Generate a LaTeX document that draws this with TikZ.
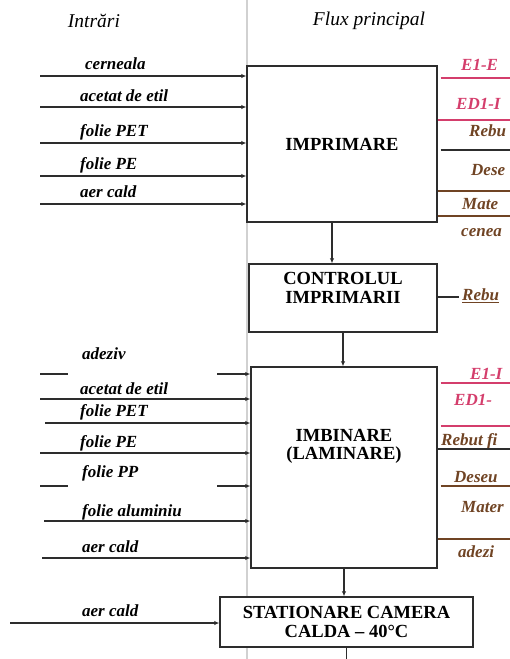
\documentclass[tikz,border=0pt]{standalone}
\usepackage{fontspec}
\setmainfont{Liberation Serif}
\usetikzlibrary{arrows.meta}
\definecolor{emisie}{RGB}{212,62,108}
\definecolor{deseu}{RGB}{112,68,36}
\definecolor{linie}{RGB}{45,45,45}

\begin{document}
\begin{tikzpicture}[x=1pt, y=-1pt,
  proc/.style={draw=linie, line width=1.4pt, fill=white, inner sep=0pt},
  ptxt/.style={align=center, font=\fontsize{18.5}{18.5}\selectfont\bfseries},
  lbl/.style={anchor=west, inner sep=0pt, font=\fontsize{17}{18}\selectfont\bfseries\itshape},
  hdr/.style={font=\fontsize{19.5}{21}\selectfont\itshape},
  inl/.style={line width=1.3pt, linie},
  arr/.style={inl, -{Latex[length=5pt,width=4.5pt]}},
  outE/.style={line width=1.3pt, emisie},
  outD/.style={line width=1.3pt, deseu}
]
\useasboundingbox (0,0) rectangle (510,659);
\draw[black!18, line width=2pt] (247,0) -- (247,659);

\node[hdr] (intrari) at (94,21)  {Intrări};
\node[hdr] (flux)    at (369,21) {Flux principal};

% fluxul principal
\node[proc, minimum width=190pt, minimum height=156pt, ptxt] (impr) at (342,144) {IMPRIMARE};
\node[proc, minimum width=188pt, minimum height=68pt] (ctrl) at (343,298) {};
\node[ptxt] (ctrltxt) at ([yshift=10pt]ctrl.center) {CONTROLUL\\IMPRIMARII};
\node[proc, minimum width=186pt, minimum height=201pt] (imb) at (344,467.5) {};
\node[ptxt] (imbtxt) at ([yshift=21pt]imb.center) {IMBINARE\\(LAMINARE)};
\node[proc, minimum width=253pt, minimum height=50pt, ptxt] (stat) at (346.5,622) {STATIONARE CAMERA\\CALDA -- 40°C};
\coordinate (iesire) at (343,659);

\draw[arr] ([xshift=-10pt]impr.south) -- ([xshift=-10pt]impr.south |- ctrl.north);
\draw[arr] (ctrl.south) -- (ctrl.south |- imb.north);
\draw[arr] (imb.south) -- (imb.south |- stat.north);
\draw[inl] (stat.south) -- (stat.south |- iesire);

% intrari imprimare
\coordinate (i1) at (40,76);  \node[lbl] (l1) at (85,64)  {cerneala};
\coordinate (i2) at (40,107); \node[lbl] (l2) at (80,96)  {acetat de etil};
\coordinate (i3) at (40,143); \node[lbl] (l3) at (80,132) {folie PET};
\coordinate (i4) at (40,176); \node[lbl] (l4) at (80,165) {folie PE};
\coordinate (i5) at (40,204); \node[lbl] (l5) at (80,192) {aer cald};
\draw[arr] (i1) -- (i1 -| impr.west);
\draw[arr] (i2) -- (i2 -| impr.west);
\draw[arr] (i3) -- (i3 -| impr.west);
\draw[arr] (i4) -- (i4 -| impr.west);
\draw[arr] (i5) -- (i5 -| impr.west);

% intrari imbinare
\coordinate (j1a) at (40,374); \coordinate (j1b) at (68,374); \coordinate (j1) at (217,374);
\node[lbl] (m1) at (82,354) {adeziv};
\coordinate (j2) at (40,399);  \node[lbl] (m2) at (80,389) {acetat de etil};
\coordinate (j3) at (45,423);  \node[lbl] (m3) at (80,412) {folie PET};
\coordinate (j4) at (40,453);  \node[lbl] (m4) at (80,443) {folie PE};
\coordinate (j5a) at (40,486); \coordinate (j5b) at (68,486); \coordinate (j5) at (217,486);
\node[lbl] (m5) at (82,473) {folie PP};
\coordinate (j6) at (44,521);  \node[lbl] (m6) at (82,512) {folie aluminiu};
\coordinate (j7) at (42,558);  \node[lbl] (m7) at (82,547) {aer cald};
\draw[inl] (j1a) -- (j1b);
\draw[arr] (j1) -- (j1 -| imb.west);
\draw[arr] (j2) -- (j2 -| imb.west);
\draw[arr] (j3) -- (j3 -| imb.west);
\draw[arr] (j4) -- (j4 -| imb.west);
\draw[inl] (j5a) -- (j5b);
\draw[arr] (j5) -- (j5 -| imb.west);
\draw[arr] (j6) -- (j6 -| imb.west);
\draw[arr] (j7) -- (j7 -| imb.west);

% intrare stationare
\coordinate (k1) at (10,623); \node[lbl] (n1) at (82,611) {aer cald};
\draw[arr] (k1) -- (k1 -| stat.west);

% iesiri imprimare
\coordinate (o1) at (512,78);  \node[lbl, text=emisie] (p1) at (461,65)  {E1-E};
\coordinate (o2) at (512,120); \node[lbl, text=emisie] (p2) at (456,104) {ED1-I};
\coordinate (o3) at (512,150); \node[lbl, text=deseu]  (p3) at (469,131) {Rebu};
\coordinate (o4) at (512,191); \node[lbl, text=deseu]  (p4) at (471,170) {Dese};
\coordinate (o5) at (512,216); \node[lbl, text=deseu]  (p5) at (462,204) {Mate};
\node[lbl, text=deseu] (p6) at (461,233) {cenea};
\draw[outE] ([xshift=3pt]impr.east |- o1) -- (o1);
\draw[outE] (impr.east |- o2) -- (o2);
\draw[inl]  ([xshift=3pt]impr.east |- o3) -- (o3);
\draw[outD] (impr.east |- o4) -- (o4);
\draw[outD] (impr.east |- o5) -- (o5);

% iesire control
\coordinate (q1) at (459,297);
\node[lbl, text=deseu] (r1) at (462,296) {\underline{Rebu}};
\draw[inl] (ctrl.east |- q1) -- (q1);

% iesiri imbinare
\coordinate (s1) at (512,383); \node[lbl, text=emisie] (t1) at (470,374) {E1-I};
\coordinate (s2) at (512,426); \node[lbl, text=emisie] (t2) at (454,400) {ED1-};
\coordinate (s3) at (512,449); \node[lbl, text=deseu]  (t3) at (441,441) {Rebut fi};
\coordinate (s4) at (512,486); \node[lbl, text=deseu]  (t4) at (454,477) {Deseu};
\coordinate (s5) at (512,539); \node[lbl, text=deseu]  (t5) at (461,507) {Mater};
\node[lbl, text=deseu] (t6) at (458,552) {adezi};
\draw[outE] ([xshift=3pt]imb.east |- s1) -- (s1);
\draw[outE] ([xshift=3pt]imb.east |- s2) -- (s2);
\draw[inl]  (imb.east |- s3) -- (s3);
\draw[outD] ([xshift=3pt]imb.east |- s4) -- (s4);
\draw[outD] (imb.east |- s5) -- (s5);
\end{tikzpicture}
\end{document}
